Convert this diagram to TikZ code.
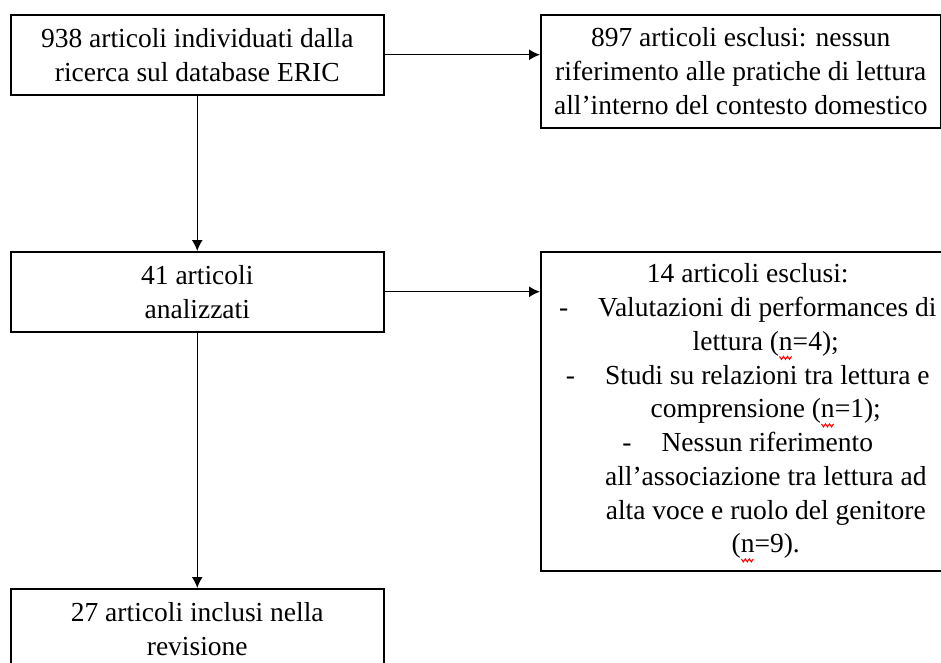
\documentclass[tikz,border=0pt]{standalone}
\usepackage{fontspec}
\setmainfont{Liberation Serif}
\usetikzlibrary{arrows.meta,positioning}

% red spell-check wave under the letter n
\newcommand{\spellw}[1]{\rlap{#1}\tikz[x=1pt,y=1pt,baseline=0pt]{%
  \useasboundingbox (0,0) rectangle (13.75,1);
  \draw[red, line width=1pt] (0.5,-6) -- (2.5,-9) -- (4.5,-6) -- (6.5,-9)
    -- (8.5,-6) -- (10.5,-9) -- (12.5,-6);}}

\begin{document}
\begin{tikzpicture}[x=1pt, y=-1pt,
  every node/.style={font=\fontsize{27.5}{33.75}\selectfont},
  box/.style={draw, line width=1.5pt, minimum width=373pt, minimum height=80pt,
    align=center, inner sep=0pt, anchor=north west},
  arr/.style={-{Latex[length=11pt, width=11pt]}, line width=1.4pt},
]
\useasboundingbox (0,0) rectangle (941,662);
\clip (0,0) rectangle (941,662);

\node[box] (found) at (10,14) {938 articoli individuati dalla\\ricerca sul database ERIC};

\node[box, minimum width=400pt, minimum height=113pt] (excl1) at (540,14) {%
  897 articoli esclusi: nessun\\
  riferimento alle pratiche di lettura\\
  all’interno del contesto domestico};

\node[box] (analysed) at (10,251) {41 articoli\\analizzati};

\node[box, minimum width=414pt, minimum height=319pt] (excl2) at (540,251) {%
  14 articoli esclusi:\\
  -\hspace*{30pt}Valutazioni di performances di\\
  \hspace*{36pt}lettura (\spellw{n}=4);\\
  -\hspace*{30pt}Studi su relazioni tra lettura e\\
  \hspace*{36pt}comprensione (\spellw{n}=1);\\
  -\hspace*{30pt}Nessun riferimento\\
  \hspace*{36pt}all’associazione tra lettura ad\\
  \hspace*{36pt}alta voce e ruolo del genitore\\
  \hspace*{36pt}(\spellw{n}=9).};

\node[box] (incl) at (10,588) {27 articoli inclusi nella\\revisione};

\draw[arr] (found) -- (analysed);
\draw[arr] (analysed) -- (incl);
\draw[arr] (found.east) -- (found.east -| excl1.west);
\draw[arr] (analysed.east) -- (analysed.east -| excl2.west);

\end{tikzpicture}
\end{document}
